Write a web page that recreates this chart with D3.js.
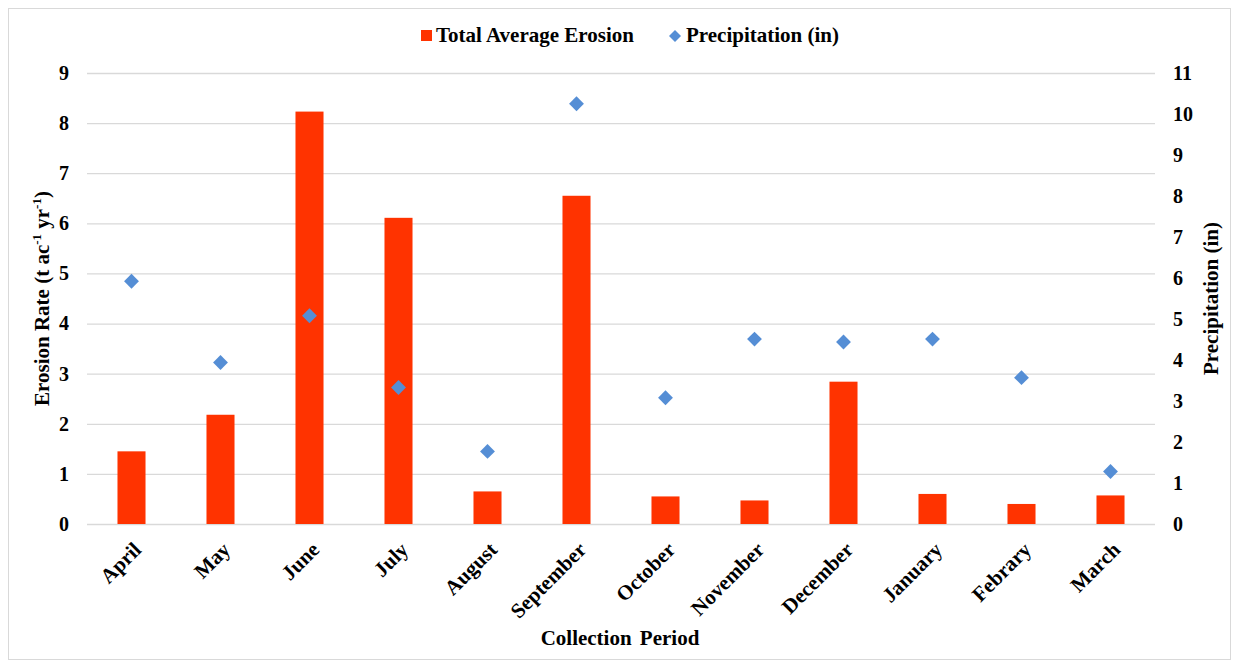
<!DOCTYPE html>
<html>
<head>
<meta charset="utf-8">
<script src="https://cdn.jsdelivr.net/npm/d3@7"></script>
<style>
  body { margin: 0; background: #fff; }
  svg text { font-family: "Liberation Serif", "Times New Roman", serif; font-weight: bold; fill: #000; }
</style>
</head>
<body>
<svg id="chart" width="1239" height="669"></svg>
<script>
// Data
const months = ['April', 'May', 'June', 'July', 'August', 'September', 'October',
  'November', 'December', 'January', 'Febrary', 'March'];
const erosion = [1.45, 2.18, 8.23, 6.11, 0.65, 6.55, 0.55, 0.47, 2.84, 0.6, 0.4, 0.57];
const precip = [5.92, 3.94, 5.08, 3.33, 1.77, 10.25, 3.08, 4.51, 4.44, 4.51, 3.57, 1.28];
const leftTicks = d3.range(0, 10);
const rightTicks = d3.range(0, 12);

const svg = d3.select('#chart');
const margin = { top: 73, right: 84, bottom: 145, left: 87 };
const width = 1239, height = 669;

// chart border
svg.append('rect')
  .attr('x', 8.5).attr('y', 8.5)
  .attr('width', 1222).attr('height', 651)
  .attr('fill', '#fff').attr('stroke', '#d9d9d9');

const x = d3.scaleBand()
  .domain(months)
  .range([margin.left, width - margin.right])
  .paddingInner(0.685)
  .paddingOuter(0.3425);

const yL = d3.scaleLinear().domain([0, 9]).range([height - margin.bottom, margin.top]);
const yR = d3.scaleLinear().domain([0, 11]).range([height - margin.bottom, margin.top]);

// gridlines
svg.append('g')
  .selectAll('line')
  .data(leftTicks)
  .join('line')
  .attr('x1', margin.left).attr('x2', width - margin.right)
  .attr('y1', d => yL(d) + 0.5).attr('y2', d => yL(d) + 0.5)
  .attr('stroke', '#d9d9d9').attr('stroke-width', 1.3);

// bars
svg.append('g')
  .selectAll('rect')
  .data(months)
  .join('rect')
  .attr('x', d => x(d))
  .attr('width', x.bandwidth())
  .attr('y', (d, i) => yL(erosion[i]))
  .attr('height', (d, i) => yL(0) - yL(erosion[i]))
  .attr('fill', '#ff3300');

// precipitation diamonds
const diamond = d3.symbol().type(d3.symbolSquare).size(110);
svg.append('g')
  .selectAll('path')
  .data(months)
  .join('path')
  .attr('d', diamond)
  .attr('transform', (d, i) => `translate(${x(d) + x.bandwidth() / 2},${yR(precip[i])}) rotate(45)`)
  .attr('fill', '#558ed5');

// left axis
const axL = svg.append('g')
  .attr('transform', `translate(${margin.left},0)`)
  .call(d3.axisLeft(yL).tickValues(leftTicks).tickSize(0).tickPadding(18));
axL.select('.domain').remove();
axL.selectAll('text').style('font-size', '20px');

// right axis
const axR = svg.append('g')
  .attr('transform', `translate(${width - margin.right},0)`)
  .call(d3.axisRight(yR).tickValues(rightTicks).tickSize(0).tickPadding(18));
axR.select('.domain').remove();
axR.selectAll('text').style('font-size', '20px');

// x axis labels
svg.append('g')
  .selectAll('text')
  .data(months)
  .join('text')
  .attr('transform', d => `translate(${x(d) + x.bandwidth() / 2 + 11},${yL(0) + 27}) rotate(-45)`)
  .attr('text-anchor', 'end')
  .style('font-size', '21px')
  .text(d => d);

// axis titles
const ltitle = svg.append('text')
  .attr('transform', `translate(49,${(yL(0) + yL(9)) / 2}) rotate(-90)`)
  .attr('text-anchor', 'middle')
  .style('font-size', '21px');
ltitle.append('tspan').text('Erosion Rate (t ac');
ltitle.append('tspan').attr('dy', -8).style('font-size', '13px').text('-1');
ltitle.append('tspan').attr('dy', 8).text(' yr');
ltitle.append('tspan').attr('dy', -8).style('font-size', '13px').text('-1');
ltitle.append('tspan').attr('dy', 8).text(')');

svg.append('text')
  .attr('transform', `translate(1218,${(yL(0) + yL(9)) / 2}) rotate(-90)`)
  .attr('text-anchor', 'middle')
  .style('font-size', '21px')
  .text('Precipitation (in)');

svg.append('text')
  .attr('x', 620).attr('y', 645)
  .attr('text-anchor', 'middle')
  .style('font-size', '21px')
  .style('word-spacing', '3px')
  .text('Collection Period');

// legend
const legend = svg.append('g');
legend.append('rect')
  .attr('x', 421).attr('y', 30).attr('width', 11).attr('height', 11)
  .attr('fill', '#ff3300');
legend.append('text')
  .attr('x', 436).attr('y', 42)
  .style('font-size', '21px')
  .text('Total Average Erosion');
legend.append('path')
  .attr('d', d3.symbol().type(d3.symbolSquare).size(72))
  .attr('transform', 'translate(675,36) rotate(45)')
  .attr('fill', '#558ed5');
legend.append('text')
  .attr('x', 686).attr('y', 42)
  .style('font-size', '21px')
  .text('Precipitation (in)');
</script>
</body>
</html>
